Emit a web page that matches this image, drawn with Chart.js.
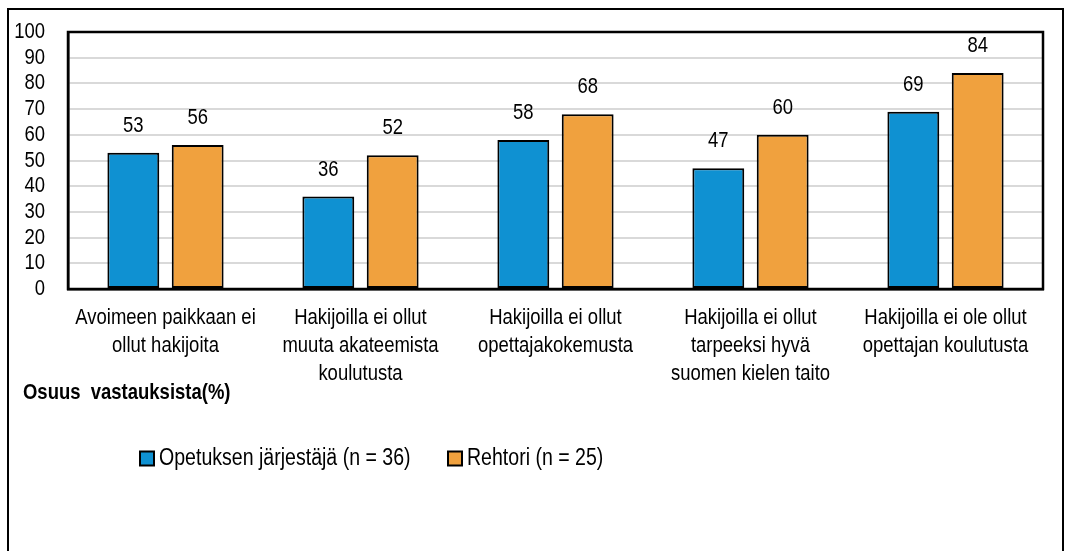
<!DOCTYPE html>
<html><head><meta charset="utf-8">
<script src="https://cdn.jsdelivr.net/npm/chart.js@4"></script>
<style>html,body{margin:0;padding:0;background:#fff}canvas{display:block}</style>
</head><body>
<canvas id="c" width="1070" height="551"></canvas>
<script>
const categories = [
  ["Avoimeen paikkaan ei", "ollut hakijoita"],
  ["Hakijoilla ei ollut", "muuta akateemista", "koulutusta"],
  ["Hakijoilla ei ollut", "opettajakokemusta"],
  ["Hakijoilla ei ollut", "tarpeeksi hyvä", "suomen kielen taito"],
  ["Hakijoilla ei ole ollut", "opettajan koulutusta"]
];
const seriesNames = ["Opetuksen järjestäjä (n = 36)", "Rehtori (n = 25)"];
const jarjestajaValues = [53, 36, 58, 47, 69];
const rehtoriValues = [56, 52, 68, 60, 84];
const yTitle = "Osuus  vastauksista(%)";
const yMin = 0, yMax = 100, yStep = 10;

const FONT = "'Liberation Sans', Arial, sans-serif";
const SX = 0.84; // horizontal condensing of text
const colors = ["#0f91d2", "#f0a13e"];

function txt(ctx, str, x, y, align, sx) {
  ctx.save();
  ctx.translate(x, y);
  ctx.scale(sx || SX, 1);
  ctx.textAlign = align;
  ctx.textBaseline = 'middle';
  ctx.fillText(str, 0, 0);
  ctx.restore();
}

const framePlugin = {
  id: 'frame',
  beforeDraw(chart) {
    const ctx = chart.ctx;
    ctx.save();
    ctx.fillStyle = '#fff';
    ctx.fillRect(0, 0, chart.width, chart.height);
    ctx.strokeStyle = '#000';
    ctx.lineWidth = 2;
    ctx.strokeRect(8, 9, 1055, 600);
    ctx.restore();
  },
  afterDatasetsDraw(chart) {
    const ctx = chart.ctx;
    const a = chart.chartArea;
    ctx.save();
    ctx.strokeStyle = '#000';
    ctx.lineWidth = 2.5;
    ctx.strokeRect(a.left, a.top, a.right - a.left, a.bottom - a.top);
    ctx.fillStyle = '#000';
    ctx.font = "22px " + FONT;
    // y tick labels
    const ys = chart.scales.y;
    ys.ticks.forEach(t => {
      txt(ctx, String(t.value), 45, ys.getPixelForValue(t.value), 'right');
    });
    // x tick labels
    const xs = chart.scales.x;
    chart.data.labels.forEach((lines, i) => {
      const x = xs.getPixelForTick(i);
      lines.forEach((ln, k) => txt(ctx, ln, x, 318 + k * 28, 'center'));
    });
    // value labels
    chart.data.datasets.forEach((ds, i) => {
      const meta = chart.getDatasetMeta(i);
      meta.data.forEach((bar, j) => {
        txt(ctx, String(ds.data[j]), bar.x, bar.y - 27, 'center');
      });
    });
    // axis title
    ctx.font = "bold 22px " + FONT;
    txt(ctx, yTitle, 23, 393, 'left');
    // legend
    ctx.font = "23px " + FONT;
    const legendX = [140, 448];
    chart.data.datasets.forEach((ds, i) => {
      const x = legendX[i], y = 458.5;
      ctx.fillStyle = ds.backgroundColor;
      ctx.fillRect(x, y - 7, 14, 14);
      ctx.strokeStyle = '#000';
      ctx.lineWidth = 2;
      ctx.strokeRect(x, y - 7, 14, 14);
      ctx.fillStyle = '#000';
      txt(ctx, ds.label, x + 19, y, 'left', 0.85);
    });
    ctx.restore();
  }
};

new Chart(document.getElementById('c'), {
  type: 'bar',
  data: {
    labels: categories,
    datasets: [
      { label: seriesNames[0], data: jarjestajaValues, backgroundColor: colors[0], borderColor: '#000', borderWidth: 2, borderSkipped: false },
      { label: seriesNames[1], data: rehtoriValues, backgroundColor: colors[1], borderColor: '#000', borderWidth: 2, borderSkipped: false }
    ]
  },
  options: {
    responsive: false,
    animation: false,
    events: [],
    layout: { padding: { top: 32, right: 27, bottom: 0, left: 0 } },
    datasets: { bar: { categoryPercentage: 0.66, barPercentage: 0.806 } },
    plugins: { legend: { display: false }, tooltip: { enabled: false }, title: { display: false } },
    scales: {
      x: {
        afterFit(s) { s.height = 262; },
        grid: { display: false, drawTicks: false },
        border: { display: true, color: '#000', width: 2.5 },
        ticks: { display: false, autoSkip: false }
      },
      y: {
        min: yMin, max: yMax,
        afterFit(s) { s.width = 68; },
        grid: { color: '#d9d9d9', lineWidth: 2, drawTicks: false },
        border: { display: true, color: '#000', width: 2.5 },
        ticks: { display: false, stepSize: yStep, autoSkip: false }
      }
    }
  },
  plugins: [framePlugin]
});
</script>
</body></html>
